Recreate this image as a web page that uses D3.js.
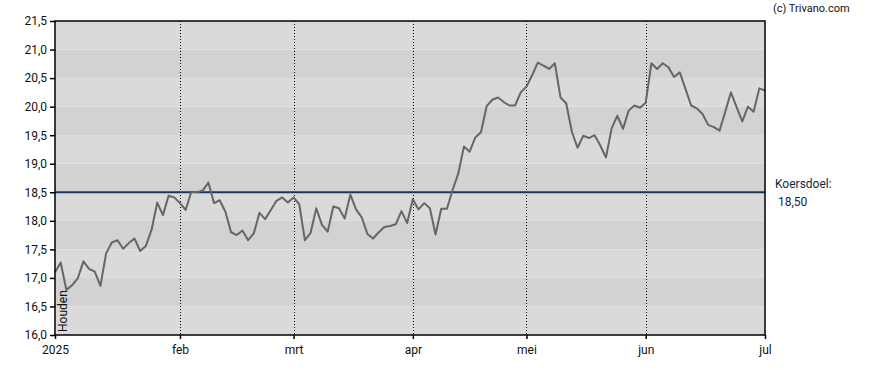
<!DOCTYPE html>
<html>
<head>
<meta charset="utf-8">
<script src="https://cdn.jsdelivr.net/npm/d3@7"></script>
<style>
  body { margin: 0; background: #fff; }
  svg { font-family: Roboto, "Liberation Sans", Arial, sans-serif; }
</style>
</head>
<body>
<div id="chart"></div>
<script>
// closing prices per trading day, 2 jan .. 1 jul 2025
var prices = [
  17.10, 17.27, 16.79, 16.87, 16.99, 17.29, 17.16, 17.11, 16.86, 17.43,
  17.62, 17.66, 17.51, 17.61, 17.69, 17.47, 17.56, 17.84, 18.32, 18.10,
  18.44, 18.41, 18.31, 18.19, 18.51, 18.50, 18.53, 18.67, 18.31, 18.36,
  18.16, 17.80, 17.75, 17.83, 17.66, 17.78, 18.14, 18.03, 18.19, 18.35,
  18.41, 18.32, 18.41, 18.29, 17.66, 17.79, 18.22, 17.93, 17.81, 18.25,
  18.22, 18.04, 18.46, 18.20, 18.06, 17.77, 17.69, 17.80, 17.89, 17.91,
  17.94, 18.17, 17.96, 18.38, 18.20, 18.31, 18.22, 17.76, 18.21, 18.21,
  18.54, 18.83, 19.30, 19.21, 19.46, 19.55, 20.01, 20.12, 20.16, 20.08,
  20.02, 20.02, 20.25, 20.35, 20.55, 20.77, 20.72, 20.66, 20.76, 20.16,
  20.06, 19.56, 19.28, 19.49, 19.45, 19.50, 19.32, 19.11, 19.62, 19.84,
  19.61, 19.93, 20.02, 19.98, 20.07, 20.76, 20.66, 20.76, 20.69, 20.52,
  20.60, 20.31, 20.02, 19.97, 19.87, 19.68, 19.64, 19.58, 19.91, 20.25,
  19.99, 19.74, 20.00, 19.91, 20.32, 20.28
];

// month starts as trading-day index
var monthLabels = ["2025", "feb", "mrt", "apr", "mei", "jun", "jul"];
var monthIndex = [0, 22, 42, 63, 83, 104, 125];

var yTicks = [16.0, 16.5, 17.0, 17.5, 18.0, 18.5, 19.0, 19.5, 20.0, 20.5, 21.0, 21.5];
var target = 18.5;
var stockName = "Houden";

var margin = {top: 21, right: 123, bottom: 35, left: 55},
    width = 888 - margin.left - margin.right,
    height = 370 - margin.top - margin.bottom;

var svg = d3.select("#chart")
  .append("svg")
    .attr("width", 888)
    .attr("height", 370)
  .append("g")
    .attr("transform", "translate(" + margin.left + "," + margin.top + ")");

var x = d3.scaleLinear()
  .domain([0, 125])
  .range([0, width]);

var y = d3.scaleLinear()
  .domain([16, 21.5])
  .range([height, 0]);

// alternating bands
var bands = d3.range(16, 21.5, 0.5);
svg.selectAll("rect.band")
  .data(bands)
  .enter()
  .append("rect")
    .attr("class", "band")
    .attr("x", 0)
    .attr("width", width)
    .attr("y", function(d) { return y(d + 0.5); })
    .attr("height", function(d) { return y(d) - y(d + 0.5); })
    .style("fill", function(d, i) { return i % 2 == 0 ? "#dadada" : "#d2d2d2"; });

// dotted month lines
svg.selectAll("line.month")
  .data(monthIndex.slice(1, -1))
  .enter()
  .append("line")
    .attr("x1", function(d) { return Math.round(x(d)) + 0.5; })
    .attr("x2", function(d) { return Math.round(x(d)) + 0.5; })
    .attr("y1", 0)
    .attr("y2", height)
    .style("stroke", "#000")
    .style("stroke-width", 1)
    .style("stroke-dasharray", "1,2");

// target line
svg.append("line")
  .attr("x1", 0)
  .attr("x2", width)
  .attr("y1", y(target))
  .attr("y2", y(target))
  .style("stroke", "#17375e")
  .style("stroke-width", 2);

// price line
svg.append("path")
  .datum(prices)
  .attr("fill", "none")
  .attr("stroke", "#666666")
  .attr("stroke-width", 2)
  .attr("stroke-linejoin", "round")
  .attr("d", d3.line()
    .x(function(d, i) { return x(i); })
    .y(function(d) { return y(d); }));

// frame
svg.append("rect")
  .attr("x", 0)
  .attr("y", 0)
  .attr("width", width)
  .attr("height", height)
  .style("fill", "none")
  .style("stroke", "#000")
  .style("stroke-width", 1.5);

// axes
var fmt = function(d) { return d3.format(".1f")(d).replace(".", ","); };
var yAxis = svg.append("g")
  .call(d3.axisLeft(y).tickValues(yTicks).tickFormat(fmt).tickSize(5).tickPadding(3));
yAxis.select(".domain").remove();

var xAxis = svg.append("g")
  .attr("transform", "translate(0," + height + ")")
  .call(d3.axisBottom(x).tickValues(monthIndex)
    .tickFormat(function(d, i) { return monthLabels[i]; })
    .tickSize(4).tickPadding(6));
xAxis.select(".domain").remove();

svg.selectAll(".tick text")
  .style("font-size", "12px")
  .style("font-family", "Roboto, 'Liberation Sans', Arial, sans-serif")
  .style("fill", "#111");
svg.selectAll(".tick line").style("stroke", "#000").style("stroke-width", 1.5);

// stock name, vertical
svg.append("text")
  .attr("transform", "translate(" + 12 + "," + (height - 3) + ") rotate(-90)")
  .style("font-size", "12px")
  .style("fill", "#111")
  .text(stockName);

// labels on the right
svg.append("text")
  .attr("x", width + 10)
  .attr("y", y(target) - 4)
  .style("font-size", "12px")
  .style("fill", "#0d2a47")
  .text("Koersdoel:");
svg.append("text")
  .attr("x", width + 13)
  .attr("y", y(target) + 14)
  .style("font-size", "12px")
  .style("fill", "#0d2a47")
  .text(fmt(target).replace(/^(\d+,\d)$/, "$10"));

svg.append("text")
  .attr("x", width + 8)
  .attr("y", -9)
  .style("font-size", "11px")
  .style("fill", "#111")
  .text("(c) Trivano.com");
</script>
</body>
</html>
